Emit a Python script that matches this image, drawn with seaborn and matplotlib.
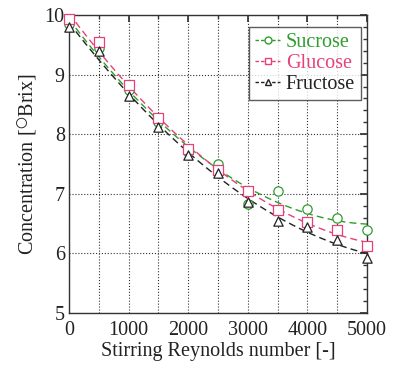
import numpy as np
import pandas as pd
import matplotlib
matplotlib.use("Agg")
import matplotlib.pyplot as plt
import seaborn as sns
from matplotlib.lines import Line2D

reynolds = [0, 500, 1000, 1500, 2000, 2500, 3000, 3500, 4000, 4500, 5000]
sucrose = [9.85, 9.45, 8.75, 8.20, 7.70, 7.50, 6.83, 7.05, 6.75, 6.60, 6.40]
glucose = [9.93, 9.55, 8.82, 8.27, 7.75, 7.40, 7.05, 6.73, 6.53, 6.40, 6.13]
fructose = [9.80, 9.40, 8.65, 8.12, 7.65, 7.35, 6.87, 6.55, 6.45, 6.22, 5.93]
names = ["Sucrose", "Glucose", "Fructose"]
colors = {"Sucrose": "#2e9e2e", "Glucose": "#e8407a", "Fructose": "#222222"}
markers = {"Sucrose": "o", "Glucose": "s", "Fructose": "^"}

sns.set_theme(style="white")
plt.rcParams["font.family"] = ["Liberation Serif", "DejaVu Serif"]
plt.rcParams["mathtext.fontset"] = "stix"

df = pd.DataFrame({"Re": reynolds * 3,
                   "conc": sucrose + glucose + fructose,
                   "sugar": sum([[n] * len(reynolds) for n in names], [])})

fig = plt.figure(figsize=(4.01, 3.67), dpi=100)
ax = fig.add_axes([0.172, 0.147, 0.743, 0.812])

# fitted curves
xf = np.linspace(0, 5000, 200)
fit_rows = []
for n, vals in zip(names, [sucrose, glucose, fructose]):
    c = np.polyfit(reynolds, vals, 2)
    for x, y in zip(xf, np.polyval(c, xf)):
        fit_rows.append((x, y, n))
fit = pd.DataFrame(fit_rows, columns=["Re", "conc", "sugar"])

for n in names:
    sub = fit[fit.sugar == n]
    sns.lineplot(data=sub, x="Re", y="conc", ax=ax, color=colors[n],
                 linestyle=(0, (5, 3)), linewidth=1.0, legend=False)
    pts = df[df.sugar == n]
    sns.scatterplot(data=pts, x="Re", y="conc", ax=ax, marker=markers[n],
                    s=45, facecolor="white", edgecolor=colors[n],
                    linewidth=0.9, legend=False, clip_on=False, zorder=5)

ax.set_xlim(0, 5000)
ax.set_ylim(5, 10)
ax.set_xticks(range(0, 5001, 1000))
ax.set_xticks(range(0, 5001, 500), minor=True)
ax.set_yticks(range(5, 11))
ax.set_yticks(np.arange(5, 10.01, 0.2), minor=True)
ax.grid(True, which="major", color="#333333", linestyle=":", linewidth=0.8)
ax.xaxis.grid(True, which="minor", color="#333333", linestyle=":", linewidth=0.8)
ax.tick_params(which="both", direction="in", top=True, right=True,
               labelsize=14.5, color="#333333", labelcolor="#222222")
ax.tick_params(which="major", length=5)
ax.tick_params(axis="y", which="major", pad=3)
ax.tick_params(axis="x", which="major", pad=6)
ax.tick_params(which="minor", length=3)
for s in ax.spines.values():
    s.set_color("#333333")
    s.set_linewidth(1.0)

ax.set_xlabel("Stirring Reynolds number [-]", fontsize=14.5, color="#222222",
              labelpad=1)
ax.set_ylabel(r"Concentration [$^{\bigcirc}$Brix]", fontsize=14.5,
              color="#222222", labelpad=4)

hs = [Line2D([], [], color=colors[n], linestyle=(0, (2.5, 1.5)), linewidth=1.0,
             marker=markers[n], markersize=5, markerfacecolor="white",
             markeredgecolor=colors[n]) for n in names]
leg = ax.legend(hs, names, loc="upper right", bbox_to_anchor=(0.98, 0.96),
                fontsize=14.5, frameon=True, fancybox=False, handlelength=1.2,
                handletextpad=0.3, borderpad=0.3, labelspacing=0.1,
                borderaxespad=0.0)
leg.get_frame().set_edgecolor("#333333")
leg.get_frame().set_linewidth(1.0)
for t, n in zip(leg.get_texts(), names):
    t.set_color(colors[n])

fig.savefig("out.png", dpi=100)
